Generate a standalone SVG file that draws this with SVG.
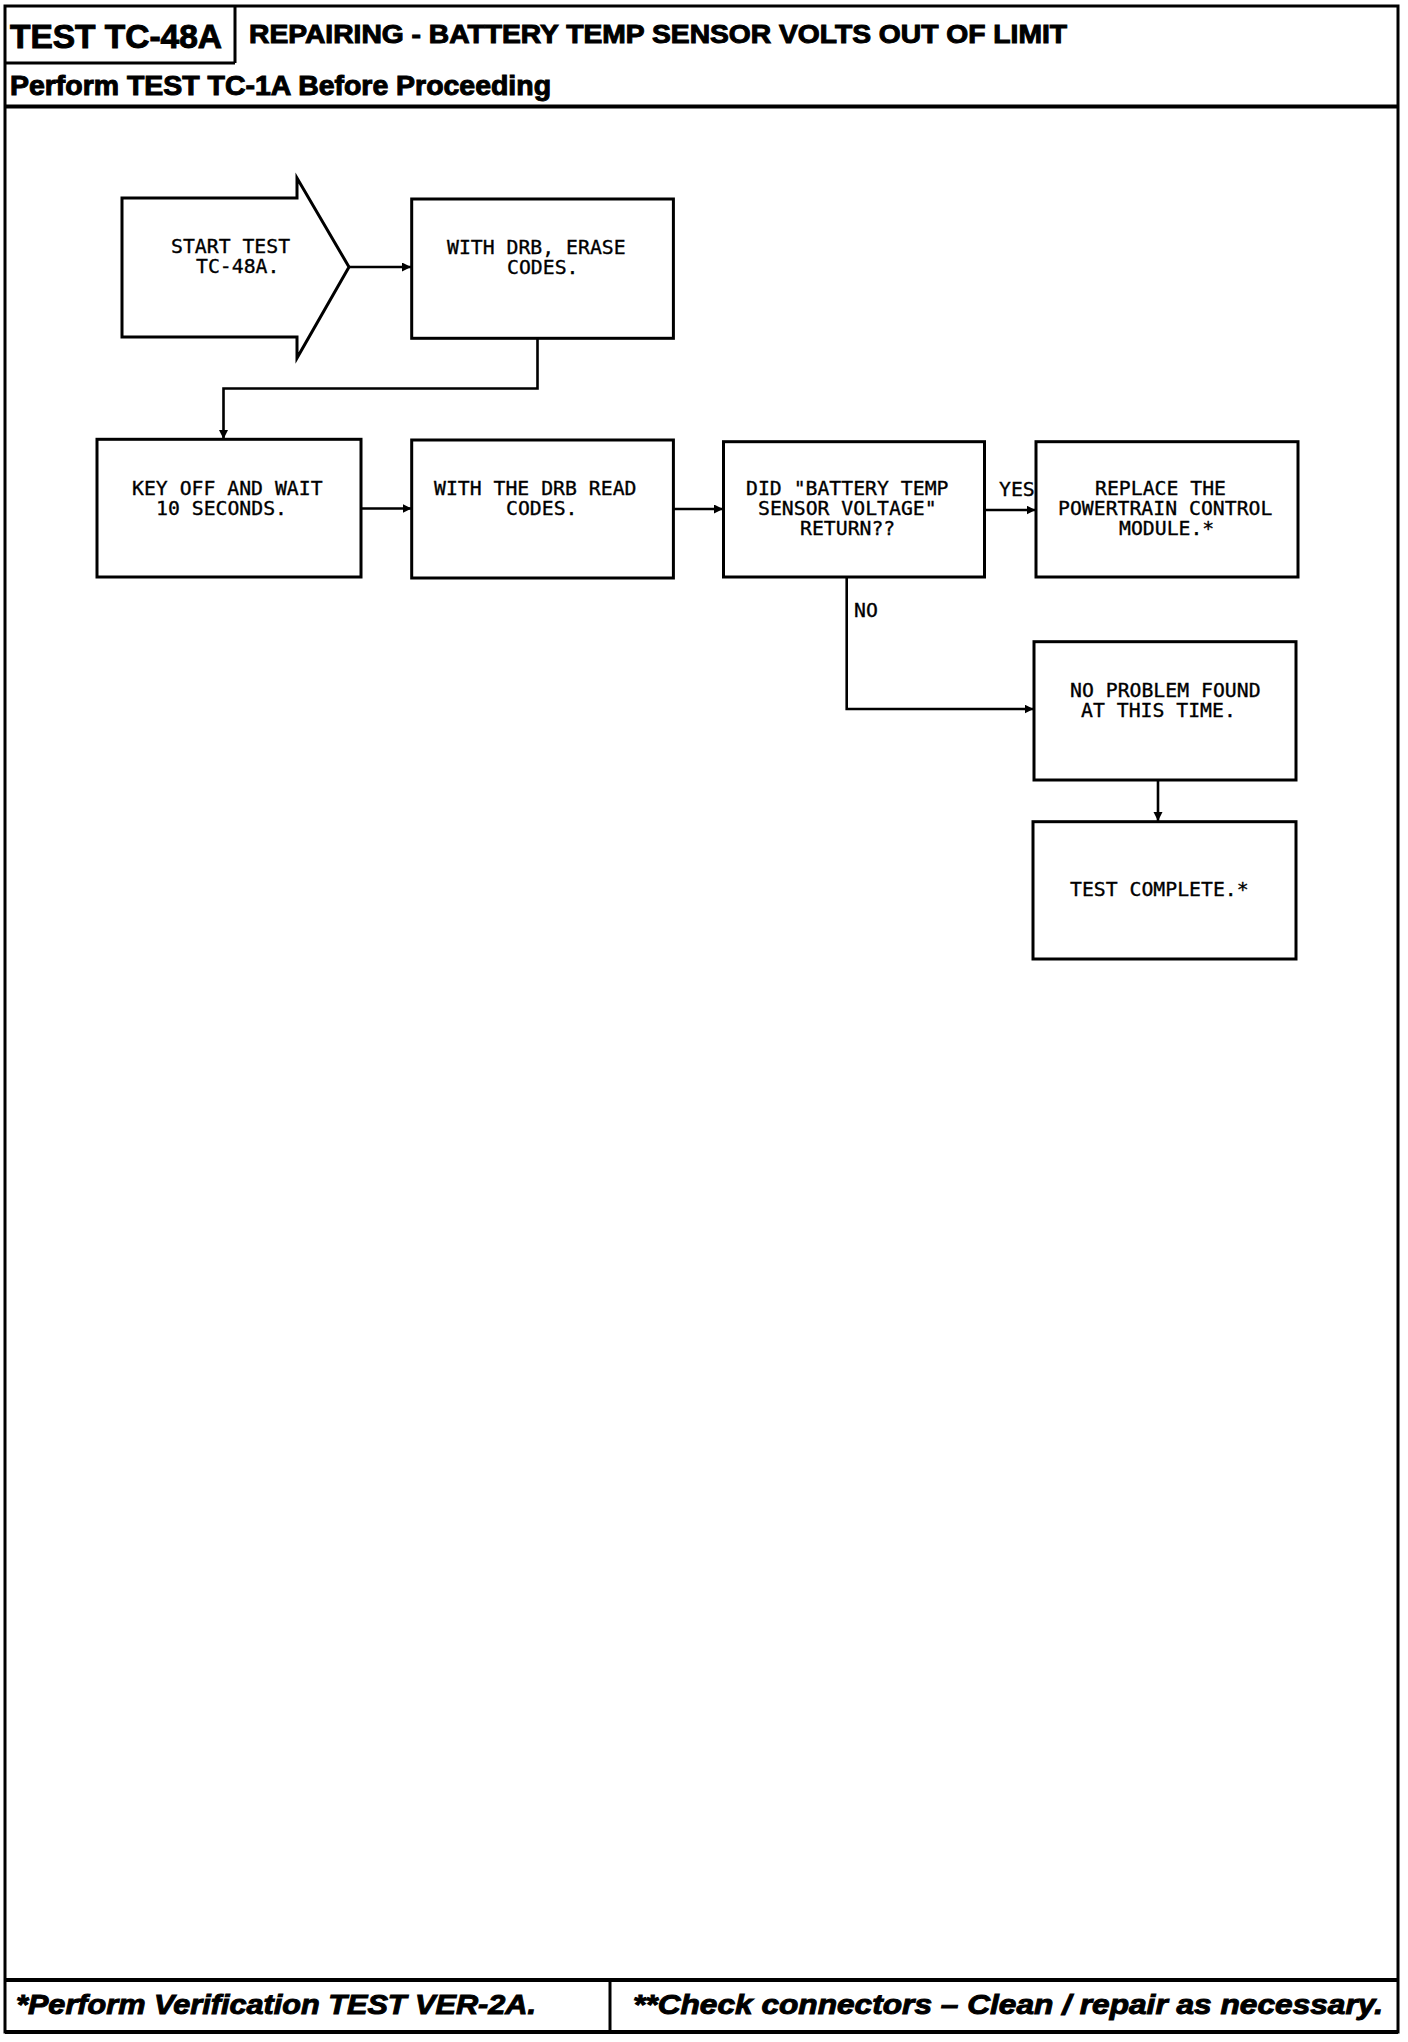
<svg xmlns="http://www.w3.org/2000/svg" width="1408" height="2042" viewBox="0 0 1408 2042">
<defs>
<style>
.frame{fill:none;stroke:#000;stroke-width:3}
.thick{fill:none;stroke:#000;stroke-width:4}
.box{fill:#fff;stroke:#000;stroke-width:3}
.conn{fill:none;stroke:#000;stroke-width:2.6}
.mono{font-family:"DejaVu Sans Mono","Liberation Mono",monospace;font-size:19.8px;fill:#000;stroke:#000;stroke-width:0.35}
.hdr{font-family:"Liberation Sans",Arial,sans-serif;font-weight:bold;fill:#000;stroke:#000;stroke-width:1}
.ftr{font-family:"Liberation Sans",Arial,sans-serif;font-weight:bold;font-style:italic;fill:#000;font-size:28px;stroke:#000;stroke-width:1}
</style>
<marker id="ah" markerUnits="userSpaceOnUse" markerWidth="10" markerHeight="10" refX="9" refY="4.5" orient="auto">
<path d="M0,0 L9,4.5 L0,9 z" fill="#000"/>
</marker>
</defs>
<rect width="1408" height="2042" fill="#fff"/>
<g id="frame">
<rect class="frame" x="5" y="6" width="1393" height="2026"/>
<path class="frame" d="M235,6 V63 M5,63 H235"/>
<path class="thick" d="M5,106.5 H1398"/>
<path class="thick" d="M5,1980 H1398 M5,2032 H1398"/>
<path class="frame" d="M610,1980 V2032"/>
<text class="hdr" x="10" y="48" font-size="34" textLength="212" lengthAdjust="spacingAndGlyphs">TEST TC-48A</text>
<text class="hdr" x="249" y="43" font-size="26" textLength="818" lengthAdjust="spacingAndGlyphs">REPAIRING - BATTERY TEMP SENSOR VOLTS OUT OF LIMIT</text>
<text class="hdr" x="10" y="95" font-size="27" textLength="541" lengthAdjust="spacingAndGlyphs">Perform TEST TC-1A Before Proceeding</text>
<text class="ftr" x="16" y="2014" textLength="520" lengthAdjust="spacingAndGlyphs">*Perform Verification TEST VER-2A.</text>
<text class="ftr" x="633" y="2014" textLength="750" lengthAdjust="spacingAndGlyphs">**Check connectors – Clean / repair as necessary.</text>
</g>
<g id="connectors">
<path class="conn" d="M349,267 H411" marker-end="url(#ah)"/>
<path class="conn" d="M537.5,338.5 V388.5 H223.5 V439" marker-end="url(#ah)"/>
<path class="conn" d="M361,508.5 H411.5" marker-end="url(#ah)"/>
<path class="conn" d="M673.5,509 H723" marker-end="url(#ah)"/>
<path class="conn" d="M984.5,510 H1035.5" marker-end="url(#ah)"/>
<path class="conn" d="M846.7,577 V709 H1033.5" marker-end="url(#ah)"/>
<path class="conn" d="M1158,780 V821" marker-end="url(#ah)"/>
<text class="mono" x="999" y="496">YES</text>
<text class="mono" x="854" y="617">NO</text>
</g>
<g id="start">
<polygon class="box" points="122,198 297,198 297,178 349,267 297,358 297,337 122,337"/>
<text class="mono" x="171" y="253">START TEST</text>
<text class="mono" x="196" y="273">TC-48A.</text>
</g>
<g id="erase">
<rect class="box" x="411.7" y="199" width="261.7" height="139.3"/>
<text class="mono" x="447" y="254">WITH DRB, ERASE</text>
<text class="mono" x="507" y="274">CODES.</text>
</g>
<g id="keyoff">
<rect class="box" x="97" y="439.3" width="264" height="137.7"/>
<text class="mono" x="132" y="495">KEY OFF AND WAIT</text>
<text class="mono" x="156" y="515">10 SECONDS.</text>
</g>
<g id="read">
<rect class="box" x="411.7" y="440" width="261.7" height="138"/>
<text class="mono" x="434" y="495">WITH THE DRB READ</text>
<text class="mono" x="506" y="515">CODES.</text>
</g>
<g id="decision">
<rect class="box" x="723.5" y="441.7" width="261" height="135.3"/>
<text class="mono" x="746" y="495">DID "BATTERY TEMP</text>
<text class="mono" x="758" y="515">SENSOR VOLTAGE"</text>
<text class="mono" x="800" y="535">RETURN??</text>
</g>
<g id="replace">
<rect class="box" x="1036" y="441.7" width="262" height="135.3"/>
<text class="mono" x="1095" y="495">REPLACE THE</text>
<text class="mono" x="1058" y="515">POWERTRAIN CONTROL</text>
<text class="mono" x="1119" y="535">MODULE.*</text>
</g>
<g id="noproblem">
<rect class="box" x="1034" y="641.7" width="262" height="138.3"/>
<text class="mono" x="1070" y="697">NO PROBLEM FOUND</text>
<text class="mono" x="1081" y="717">AT THIS TIME.</text>
</g>
<g id="complete">
<rect class="box" x="1033" y="821.7" width="263" height="137.3"/>
<text class="mono" x="1070" y="896">TEST COMPLETE.*</text>
</g>
</svg>
